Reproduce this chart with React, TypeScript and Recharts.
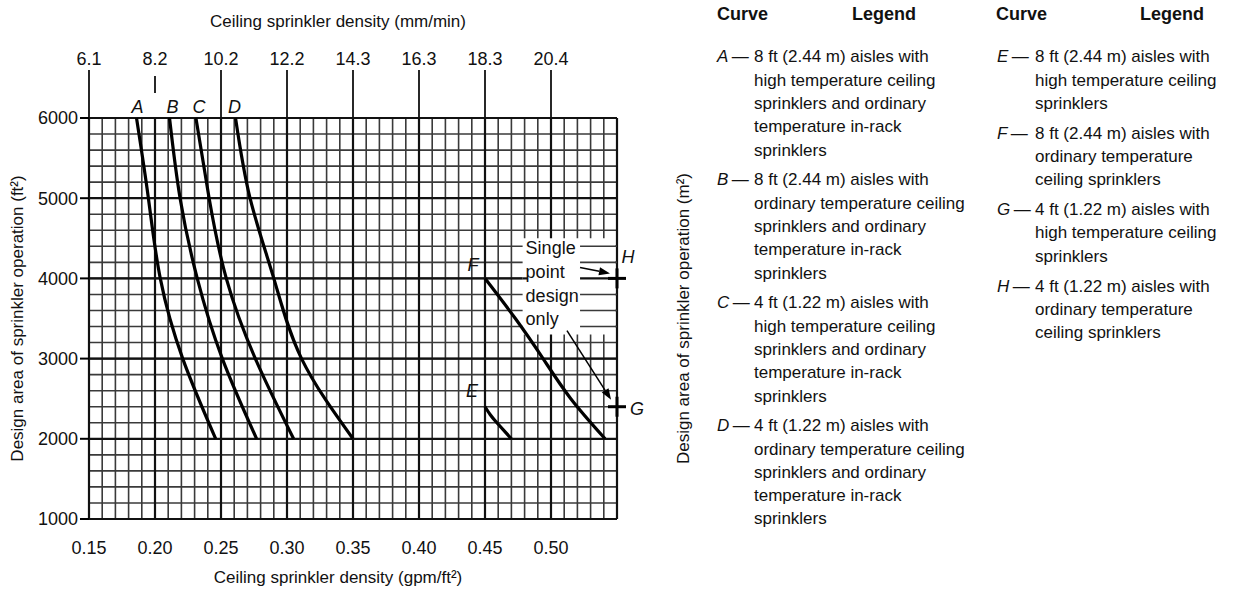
import React from 'react';
import {
  ComposedChart,
  Line,
  Scatter,
  XAxis,
  YAxis,
  CartesianGrid,
  ReferenceArea,
  ReferenceLine,
  ReferenceDot,
  Label,
} from 'recharts';

const FONT = '"Liberation Sans", Arial, sans-serif';

// axes
const xTicks = [0.15, 0.2, 0.25, 0.3, 0.35, 0.4, 0.45, 0.5];
const xTickLabels = ['0.15', '0.20', '0.25', '0.30', '0.35', '0.40', '0.45', '0.50'];
const mmTickLabels = ['6.1', '8.2', '10.2', '12.2', '14.3', '16.3', '18.3', '20.4'];
const yTicks = [1000, 2000, 3000, 4000, 5000, 6000];
const m2TickLabels = ['93', '186', '279', '372', '465', '557'];

// curves (density gpm/ft2, area ft2)
const curveA = [
  { x: 0.186, y: 6000 },
  { x: 0.195, y: 5000 },
  { x: 0.204, y: 4000 },
  { x: 0.221, y: 3000 },
  { x: 0.246, y: 2000 },
];
const curveB = [
  { x: 0.211, y: 6000 },
  { x: 0.219, y: 5000 },
  { x: 0.232, y: 4000 },
  { x: 0.251, y: 3000 },
  { x: 0.277, y: 2000 },
];
const curveC = [
  { x: 0.231, y: 6000 },
  { x: 0.241, y: 5000 },
  { x: 0.254, y: 4000 },
  { x: 0.276, y: 3000 },
  { x: 0.305, y: 2000 },
];
const curveD = [
  { x: 0.261, y: 6000 },
  { x: 0.272, y: 5000 },
  { x: 0.29, y: 4000 },
  { x: 0.311, y: 3000 },
  { x: 0.35, y: 2000 },
];
const curveE = [
  { x: 0.45, y: 2400 },
  { x: 0.454, y: 2300 },
  { x: 0.459, y: 2200 },
  { x: 0.47, y: 2000 },
];
const curveF = [
  { x: 0.45, y: 4000 },
  { x: 0.473, y: 3500 },
  { x: 0.494, y: 3000 },
  { x: 0.515, y: 2500 },
  { x: 0.541, y: 2000 },
];
const singlePoints = [
  { x: 0.55, y: 4000, name: 'H' },
  { x: 0.55, y: 2400, name: 'G' },
];

const legendLeft = [
  { curve: 'A', lines: ['8 ft (2.44 m) aisles with', 'high temperature ceiling', 'sprinklers and ordinary', 'temperature in-rack', 'sprinklers'] },
  { curve: 'B', lines: ['8 ft (2.44 m) aisles with', 'ordinary temperature ceiling', 'sprinklers and ordinary', 'temperature in-rack', 'sprinklers'] },
  { curve: 'C', lines: ['4 ft (1.22 m) aisles with', 'high temperature ceiling', 'sprinklers and ordinary', 'temperature in-rack', 'sprinklers'] },
  { curve: 'D', lines: ['4 ft (1.22 m) aisles with', 'ordinary temperature ceiling', 'sprinklers and ordinary', 'temperature in-rack', 'sprinklers'] },
];
const legendRight = [
  { curve: 'E', lines: ['8 ft (2.44 m) aisles with', 'high temperature ceiling', 'sprinklers'] },
  { curve: 'F', lines: ['8 ft (2.44 m) aisles with', 'ordinary temperature', 'ceiling sprinklers'] },
  { curve: 'G', lines: ['4 ft (1.22 m) aisles with', 'high temperature ceiling', 'sprinklers'] },
  { curve: 'H', lines: ['4 ft (1.22 m) aisles with', 'ordinary temperature', 'ceiling sprinklers'] },
];
const noteLines = ['Single', 'point', 'design', 'only'];

// grid lines every 0.01 / 200, heavier every 0.05 / 1000
const minorX = Array.from({ length: 41 }, (_, i) => +(0.15 + i * 0.01).toFixed(2));
const majorX = [0.15, 0.2, 0.25, 0.3, 0.35, 0.4, 0.45, 0.5, 0.55];
const minorY = Array.from({ length: 26 }, (_, i) => 1000 + i * 200);
const majorY = yTicks;
const noteGridY = [3400, 3600, 3800, 4200, 4400];

const MINOR = { stroke: '#3a3a3a', strokeWidth: 1.6 };
const MAJOR = { stroke: '#111', strokeWidth: 2.2 };

// tick line above the plot + mm/min label (8.2 only gets a short tick)
const topTick = (i: number) => (p: any) => {
  const x = p.x1;
  const top = Math.min(p.y1, p.y2);
  const short = i === 1;
  return (
    <g>
      <line x1={x} x2={x} y1={short ? top - 42 : top - 48} y2={short ? top - 25 : top} stroke="#111" strokeWidth={1.8} />
      <text x={x} y={top - 53} textAnchor="middle" fontSize={18} fontFamily={FONT} fill="#111">
        {mmTickLabels[i]}
      </text>
    </g>
  );
};

const Cross = (props: any) => {
  const { cx, cy } = props;
  return (
    <g>
      <line x1={cx - 9} x2={cx + 9} y1={cy} y2={cy} stroke="#000" strokeWidth={3} />
      <line x1={cx} x2={cx} y1={cy - 10} y2={cy + 10} stroke="#000" strokeWidth={3} />
    </g>
  );
};

const Arrow = (props: any) => {
  const { x1, y1, x2, y2 } = props;
  const a = Math.atan2(y2 - y1, x2 - x1);
  const len = 11;
  const w = 4;
  const bx = x2 - len * Math.cos(a);
  const by = y2 - len * Math.sin(a);
  const px = -Math.sin(a) * w;
  const py = Math.cos(a) * w;
  return (
    <g>
      <line x1={x1} y1={y1} x2={bx} y2={by} stroke="#000" strokeWidth={1.5} />
      <polygon points={`${x2},${y2} ${bx + px},${by + py} ${bx - px},${by - py}`} fill="#000" />
    </g>
  );
};

const tag = (name: string, dx: number, dy: number, anchor = 'middle') => (p: any) => {
  const vb = p.viewBox || {};
  return (
    <text x={vb.x + dx} y={vb.y + dy} textAnchor={anchor} fontSize={18} fontStyle="italic" fontFamily={FONT} fill="#111">
      {name}
    </text>
  );
};

const NoteText = (p: any) => {
  const vb = p.viewBox || {};
  return (
    <text fontSize={18} fontFamily={FONT} fill="#111">
      {noteLines.map((t, i) => (
        <tspan key={t} x={vb.x + 3} y={vb.y + 16 + i * 23.7}>
          {t}
        </tspan>
      ))}
    </text>
  );
};

const tickStyle = { fontSize: 18, fill: '#111', fontFamily: FONT };
const titleStyle = { fontSize: 17, fill: '#111', fontFamily: FONT, textAnchor: 'middle' as const };

const curves = [
  { name: 'A', data: curveA, dx: 1, dy: -5 },
  { name: 'B', data: curveB, dx: 3, dy: -5 },
  { name: 'C', data: curveC, dx: 3, dy: -5 },
  { name: 'D', data: curveD, dx: -1, dy: -5 },
  { name: 'E', data: curveE, dx: -13, dy: -10 },
  { name: 'F', data: curveF, dx: -12, dy: -7 },
];

const DensityChart = () => (
  <ComposedChart width={700} height={593} margin={{ top: 0, right: 0, bottom: 0, left: 0 }}>
    <CartesianGrid verticalValues={minorX} horizontalValues={minorY} {...MINOR} />
    <CartesianGrid verticalValues={majorX} horizontalValues={majorY} {...MAJOR} />
    <XAxis
      type="number"
      dataKey="x"
      domain={[0.15, 0.55]}
      ticks={xTicks}
      interval={0}
      tickFormatter={(v: number) => xTickLabels[xTicks.indexOf(v)]}
      height={74}
      axisLine={false}
      tickLine={false}
      tickSize={0}
      tickMargin={22}
      tick={tickStyle}
    >
      <Label value="Ceiling sprinkler density (gpm/ft²)" position="insideBottom" offset={10} dx={-15} style={titleStyle} />
    </XAxis>
    <XAxis
      xAxisId="top"
      orientation="top"
      type="number"
      dataKey="x"
      domain={[0.15, 0.55]}
      ticks={xTicks}
      height={118}
      axisLine={false}
      tickLine={false}
      tick={false}
    >
      <Label value="Ceiling sprinkler density (mm/min)" position="insideTop" offset={15} dx={-15} style={titleStyle} />
    </XAxis>
    <YAxis
      type="number"
      domain={[1000, 6000]}
      ticks={yTicks}
      interval={0}
      width={89}
      axisLine={false}
      tickSize={9}
      tickMargin={2}
      tickLine={{ stroke: '#000', strokeWidth: 2 }}
      tick={tickStyle}
    >
      <Label value="Design area of sprinkler operation (ft²)" angle={-90} position="insideLeft" offset={17} style={titleStyle} />
    </YAxis>
    <YAxis
      yAxisId="right"
      orientation="right"
      type="number"
      domain={[1000, 6000]}
      ticks={yTicks}
      interval={0}
      width={83}
      axisLine={false}
      tickSize={9}
      tickMargin={4}
      tickFormatter={(v: number) => m2TickLabels[yTicks.indexOf(v)]}
      tickLine={{ stroke: '#000', strokeWidth: 2 }}
      tick={tickStyle}
    >
      <Label value="Design area of sprinkler operation (m²)" angle={-90} position="insideRight" offset={17} style={titleStyle} />
    </YAxis>

    {xTicks.map((v, i) => (
      <ReferenceLine key={'top' + v} x={v} ifOverflow="visible" shape={topTick(i)} />
    ))}

    <ReferenceArea x1={0.4785} x2={0.5485} y1={3300} y2={4500} fill="#fff" fillOpacity={1} stroke="none" ifOverflow="visible" label={NoteText} />
    {noteGridY.map((y) => (
      <ReferenceLine key={y} segment={[{ x: 0.522, y }, { x: 0.55, y }]} {...MINOR} />
    ))}
    <ReferenceLine segment={[{ x: 0.4785, y: 4000 }, { x: 0.482, y: 4000 }]} {...MAJOR} />
    <ReferenceLine segment={[{ x: 0.522, y: 4000 }, { x: 0.55, y: 4000 }]} {...MAJOR} />
    <ReferenceLine segment={[{ x: 0.522, y: 4137 }, { x: 0.5447, y: 4062 }]} shape={Arrow} ifOverflow="visible" />
    <ReferenceLine segment={[{ x: 0.5121, y: 3350 }, { x: 0.5455, y: 2487 }]} shape={Arrow} ifOverflow="visible" />

    {curves.map((c) => (
      <Line
        key={c.name}
        data={c.data}
        dataKey="y"
        type="natural"
        stroke="#000"
        strokeWidth={3.2}
        dot={false}
        activeDot={false}
        isAnimationActive={false}
      />
    ))}
    <Scatter data={singlePoints} dataKey="y" shape={Cross} isAnimationActive={false} />

    {curves.map((c) => (
      <ReferenceDot
        key={'t' + c.name}
        x={c.data[0].x}
        y={c.data[0].y}
        r={0}
        fill="none"
        stroke="none"
        ifOverflow="visible"
        label={tag(c.name, c.dx, c.dy)}
      />
    ))}
    <ReferenceDot x={singlePoints[0].x} y={singlePoints[0].y} r={0} fill="none" stroke="none" ifOverflow="visible" label={tag('H', 11, -15)} />
    <ReferenceDot x={singlePoints[1].x} y={singlePoints[1].y} r={0} fill="none" stroke="none" ifOverflow="visible" label={tag('G', 20, 8)} />
  </ComposedChart>
);

const LINE_H = 23.3;

const LegendColumn = ({ items, left, letterW }: { items: typeof legendLeft; left: number; letterW: number }) => (
  <div style={{ position: 'absolute', left, top: 57 - LINE_H / 2, fontSize: 17, lineHeight: `${LINE_H}px` }}>
    {items.map((it) => (
      <div key={it.curve} style={{ display: 'flex', marginBottom: 6.5 }}>
        <div style={{ width: letterW, whiteSpace: 'nowrap' }}>
          <i>{it.curve}</i>
          {'\u2009—'}
        </div>
        <div>
          {it.lines.map((l) => (
            <div key={l} style={{ whiteSpace: 'nowrap' }}>
              {l}
            </div>
          ))}
        </div>
      </div>
    ))}
  </div>
);

const headerStyle: React.CSSProperties = {
  position: 'absolute',
  top: 15 - LINE_H / 2,
  fontSize: 18,
  fontWeight: 'bold',
  lineHeight: `${LINE_H}px`,
};

export default function App() {
  return (
    <div
      style={{
        position: 'absolute',
        left: 0,
        top: 0,
        width: 1234,
        height: 593,
        background: '#fff',
        fontFamily: FONT,
        color: '#111',
        overflow: 'hidden',
      }}
    >
      <div style={{ position: 'absolute', left: 0, top: 0 }}>
        <DensityChart />
      </div>
      <div style={{ ...headerStyle, left: 717 }}>Curve</div>
      <div style={{ ...headerStyle, left: 852 }}>Legend</div>
      <div style={{ ...headerStyle, left: 996 }}>Curve</div>
      <div style={{ ...headerStyle, left: 1140 }}>Legend</div>
      <LegendColumn items={legendLeft} left={717} letterW={37} />
      <LegendColumn items={legendRight} left={997} letterW={38} />
    </div>
  );
}
